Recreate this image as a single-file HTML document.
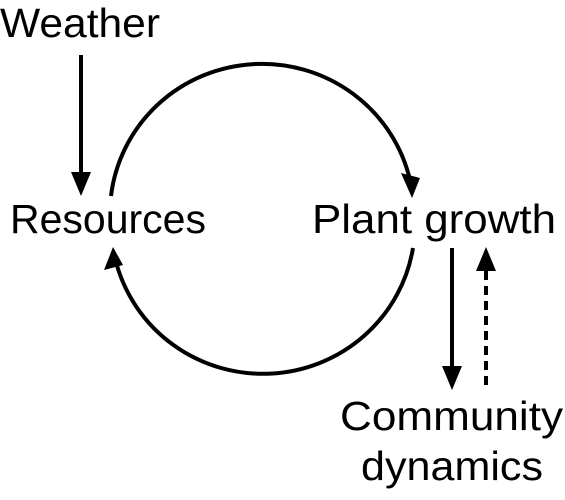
<!DOCTYPE html>
<html><head><style>
html,body{margin:0;padding:0;background:#fff;}
svg{display:block;}
text{font-family:"Liberation Sans",sans-serif;font-size:41px;fill:#000;}
</style></head><body>
<svg width="565" height="500" viewBox="0 0 565 500">
<defs>
<marker id="a" markerWidth="10" markerHeight="10" refX="8" refY="5" orient="auto" markerUnits="userSpaceOnUse" viewBox="0 0 10 10">
</marker>
</defs>
<text x="0" y="37" textLength="160" lengthAdjust="spacingAndGlyphs">Weather</text>
<text x="10" y="233" textLength="196" lengthAdjust="spacingAndGlyphs">Resources</text>
<text x="312" y="233" textLength="244" lengthAdjust="spacingAndGlyphs">Plant growth</text>
<text x="340" y="430" textLength="223" lengthAdjust="spacingAndGlyphs">Community</text>
<text x="361" y="480" textLength="182" lengthAdjust="spacingAndGlyphs">dynamics</text>
<g stroke="#000" stroke-width="4" fill="none">
<line x1="81" y1="55" x2="81" y2="180"/>
<path d="M111,196 A152,150 0 0 1 410,180"/>
<path d="M413,248 A152,150 0 0 1 116,262"/>
<line x1="452" y1="248" x2="452" y2="372"/>
<line x1="486" y1="385" x2="486" y2="268" stroke-dasharray="9,6"/>
</g>
<g fill="#000">
<polygon points="71,172 91,172 81,196"/>
<polygon points="401,173 420,178 412,198"/>
<polygon points="104,270 123,265 113,247"/>
<polygon points="442,366 462,366 452,390"/>
<polygon points="476,271 496,271 486,247"/>
</g>
</svg>
</body></html>
